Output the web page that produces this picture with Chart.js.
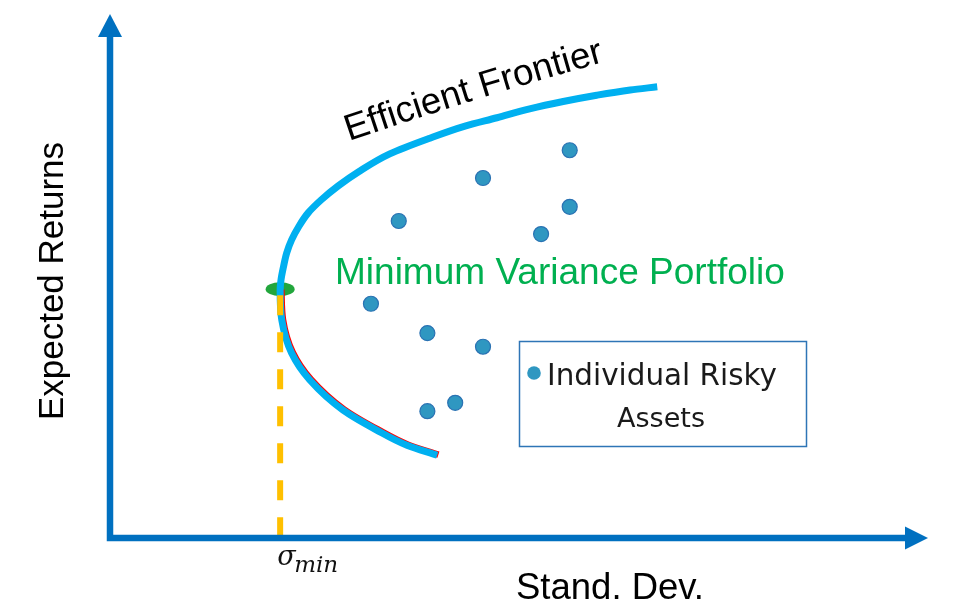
<!DOCTYPE html>
<html>
<head>
<meta charset="utf-8">
<script src="https://cdn.jsdelivr.net/npm/chart.js@4.4.1/dist/chart.umd.min.js"></script>
<style>
  html, body { margin: 0; padding: 0; background: #ffffff; }
  #wrap { width: 958px; height: 612px; }
</style>
</head>
<body>
<div id="wrap"><canvas id="c" width="958" height="612"></canvas></div>
<script>
// ---- Data (units: std. dev. on x, expected return on y) ----
const frontierX = [6.69, 6.36, 5.95, 5.54, 5.13, 4.73, 4.34, 3.91, 3.42, 3.04, 2.79, 2.58, 2.42, 2.31, 2.22, 2.16, 2.12, 2.09, 2.08, 2.10, 2.22, 2.44, 2.85, 3.26, 3.63, 4.00];
const frontierY = [8.61, 8.55, 8.45, 8.33, 8.19, 8.02, 7.86, 7.63, 7.33, 6.99, 6.72, 6.45, 6.20, 5.95, 5.69, 5.44, 5.17, 4.92, 4.73, 4.16, 3.53, 3.02, 2.44, 2.06, 1.77, 1.58];
const vertexIndex = 18;
const assetX = [5.62, 4.56, 5.62, 3.53, 5.27, 3.19, 3.88, 4.56, 3.88, 4.22];
const assetY = [7.40, 6.87, 6.32, 6.05, 5.80, 4.47, 3.91, 3.65, 2.42, 2.58];
const minVar = [2.08, 4.73];
const axisRange = [0, 10];

const labels = {
  frontier: 'Efficient Frontier',
  minVar: 'Minimum Variance Portfolio',
  yTitle: 'Expected Returns',
  xTitle: 'Stand. Dev.',
  sigma: 'σ',
  sigmaSub: 'min',
  legend1: 'Individual Risky',
  legend2: 'Assets'
};

const frontierPts = frontierX.map((x, i) => ({ x, y: frontierY[i] }));
const lowerPts = frontierPts.slice(vertexIndex);
const assetPts = assetX.map((x, i) => ({ x, y: assetY[i] }));
const dashPts = [{ x: minVar[0], y: minVar[1] }, { x: minVar[0], y: axisRange[0] }];

const BLUE_AXIS = '#0070C0';
const SANS = '"Liberation Sans", Arial, sans-serif';

function fitFont(ctx, text, style, family, targetW) {
  ctx.font = style + ' 40px ' + family;
  const w = ctx.measureText(text).width;
  const size = 40 * targetW / w;
  ctx.font = style + ' ' + size.toFixed(2) + 'px ' + family;
  return size;
}

function textOnQuad(ctx, text, p0, c, p2) {
  const N = 200, pts = [], cum = [0];
  for (let i = 0; i <= N; i++) {
    const t = i / N, u = 1 - t;
    pts.push([u*u*p0[0] + 2*u*t*c[0] + t*t*p2[0], u*u*p0[1] + 2*u*t*c[1] + t*t*p2[1]]);
    if (i > 0) cum.push(cum[i-1] + Math.hypot(pts[i][0]-pts[i-1][0], pts[i][1]-pts[i-1][1]));
  }
  const L = cum[N];
  fitFont(ctx, text, 'normal', SANS, L);
  const at = (d) => {
    let i = 1;
    while (i < N && cum[i] < d) i++;
    const f = (d - cum[i-1]) / (cum[i] - cum[i-1] || 1);
    const x = pts[i-1][0] + f * (pts[i][0] - pts[i-1][0]);
    const y = pts[i-1][1] + f * (pts[i][1] - pts[i-1][1]);
    const a = Math.atan2(pts[i][1] - pts[i-1][1], pts[i][0] - pts[i-1][0]);
    return [x, y, a];
  };
  let d = 0;
  ctx.textAlign = 'center';
  ctx.textBaseline = 'alphabetic';
  for (const ch of text) {
    const w = ctx.measureText(ch).width;
    const [x, y, a] = at(d + w / 2);
    ctx.save();
    ctx.translate(x, y);
    ctx.rotate(a);
    ctx.fillText(ch, 0, 0);
    ctx.restore();
    d += w;
  }
}

const decorPlugin = {
  id: 'decor',
  beforeDatasetsDraw(chart) {
    const { ctx, scales: { x, y } } = chart;
    const px = x.getPixelForValue(minVar[0]);
    const py = y.getPixelForValue(minVar[1]);
    ctx.save();
    ctx.fillStyle = '#22A63C';
    ctx.beginPath();
    ctx.ellipse(px, py - 1, 14.5, 7, 0, 0, Math.PI * 2);
    ctx.fill();
    ctx.restore();
  },
  beforeDatasetDraw(chart, args) {
    if (chart.data.datasets[args.index].id === 'red') {
      chart.ctx.save();
      chart.ctx.translate(1.2, -0.6);
    }
  },
  afterDatasetDraw(chart, args) {
    if (chart.data.datasets[args.index].id === 'red') {
      chart.ctx.restore();
    }
  },
  afterDraw(chart) {
    const { ctx, scales: { x, y } } = chart;
    const ox = x.getPixelForValue(axisRange[0]);
    const oy = y.getPixelForValue(axisRange[0]);
    const tipX = x.getPixelForValue(axisRange[1]);
    const tipY = y.getPixelForValue(axisRange[1]);
    ctx.save();
    ctx.strokeStyle = BLUE_AXIS;
    ctx.fillStyle = BLUE_AXIS;
    ctx.lineWidth = 6.5;
    ctx.lineCap = 'butt';
    ctx.beginPath();
    ctx.moveTo(ox, oy + 3.2);
    ctx.lineTo(ox, tipY + 22);
    ctx.moveTo(ox - 3.2, oy);
    ctx.lineTo(tipX - 22, oy);
    ctx.stroke();
    ctx.beginPath();
    ctx.moveTo(ox, tipY);
    ctx.lineTo(ox - 12, tipY + 23);
    ctx.lineTo(ox + 12, tipY + 23);
    ctx.closePath();
    ctx.fill();
    ctx.beginPath();
    ctx.moveTo(tipX, oy);
    ctx.lineTo(tipX - 23, oy - 11.5);
    ctx.lineTo(tipX - 23, oy + 11.5);
    ctx.closePath();
    ctx.fill();

    ctx.fillStyle = '#000000';
    textOnQuad(ctx, labels.frontier, [349, 141], [481, 96], [604, 62]);

    ctx.textAlign = 'left';
    ctx.textBaseline = 'alphabetic';
    ctx.fillStyle = '#00B050';
    fitFont(ctx, labels.minVar, 'normal', SANS, 450);
    ctx.fillText(labels.minVar, 335, 284);

    ctx.fillStyle = '#000000';
    fitFont(ctx, labels.xTitle, 'normal', SANS, 188);
    ctx.fillText(labels.xTitle, 516, 599);
    ctx.save();
    ctx.translate(63, 420);
    ctx.rotate(-Math.PI / 2);
    fitFont(ctx, labels.yTitle, 'normal', SANS, 278);
    ctx.fillText(labels.yTitle, 0, 0);
    ctx.restore();

    const sx = x.getPixelForValue(minVar[0]);
    ctx.fillStyle = '#111111';
    ctx.font = 'italic 27px "DejaVu Serif", serif';
    ctx.fillText(labels.sigma, sx - 3, 565);
    fitFont(ctx, labels.sigmaSub, 'italic', '"DejaVu Serif", serif', 44);
    ctx.fillText(labels.sigmaSub, sx + 14, 572);

    ctx.strokeStyle = '#2E75B6';
    ctx.lineWidth = 1.5;
    ctx.strokeRect(519.5, 341.5, 287, 105);
    ctx.fillStyle = '#2F97C1';
    ctx.beginPath();
    ctx.arc(534, 373, 6.8, 0, Math.PI * 2);
    ctx.fill();
    ctx.fillStyle = '#1a1a1a';
    fitFont(ctx, labels.legend1, 'normal', '"DejaVu Sans", sans-serif', 230);
    ctx.fillText(labels.legend1, 547, 385);
    fitFont(ctx, labels.legend2, 'normal', '"DejaVu Sans", sans-serif', 88);
    ctx.fillText(labels.legend2, 617, 427);
    ctx.restore();
  }
};

new Chart(document.getElementById('c'), {
  type: 'line',
  data: {
    datasets: [
      {
        id: 'assets',
        data: assetPts,
        showLine: false,
        pointRadius: 7.5,
        pointHoverRadius: 7.5,
        backgroundColor: '#2F97C1',
        borderColor: '#2A72B3',
        pointBackgroundColor: '#2F97C1',
        pointBorderColor: '#2A72B3',
        pointBorderWidth: 1.2,
        order: 1
      },
      {
        id: 'dash',
        data: dashPts,
        borderColor: '#FFC000',
        borderWidth: 6,
        borderDash: [20, 17],
        borderDashOffset: 32,
        pointRadius: 0,
        order: 2
      },
      {
        id: 'frontier',
        data: frontierPts,
        borderColor: '#00B0F0',
        borderWidth: 7,
        cubicInterpolationMode: 'monotone',
        pointRadius: 0,
        borderCapStyle: 'butt',
        order: 3
      },
      {
        id: 'red',
        data: lowerPts,
        borderColor: '#FF0000',
        borderWidth: 6.5,
        cubicInterpolationMode: 'monotone',
        pointRadius: 0,
        borderCapStyle: 'butt',
        order: 4
      }
    ]
  },
  options: {
    indexAxis: 'y',
    responsive: false,
    animation: false,
    layout: { padding: { left: 110, right: 30, top: 14, bottom: 74 } },
    scales: {
      x: { type: 'linear', min: axisRange[0], max: axisRange[1], display: false },
      y: { type: 'linear', min: axisRange[0], max: axisRange[1], display: false }
    },
    plugins: {
      legend: { display: false },
      tooltip: { enabled: false }
    },
    events: []
  },
  plugins: [decorPlugin]
});
</script>
</body>
</html>
